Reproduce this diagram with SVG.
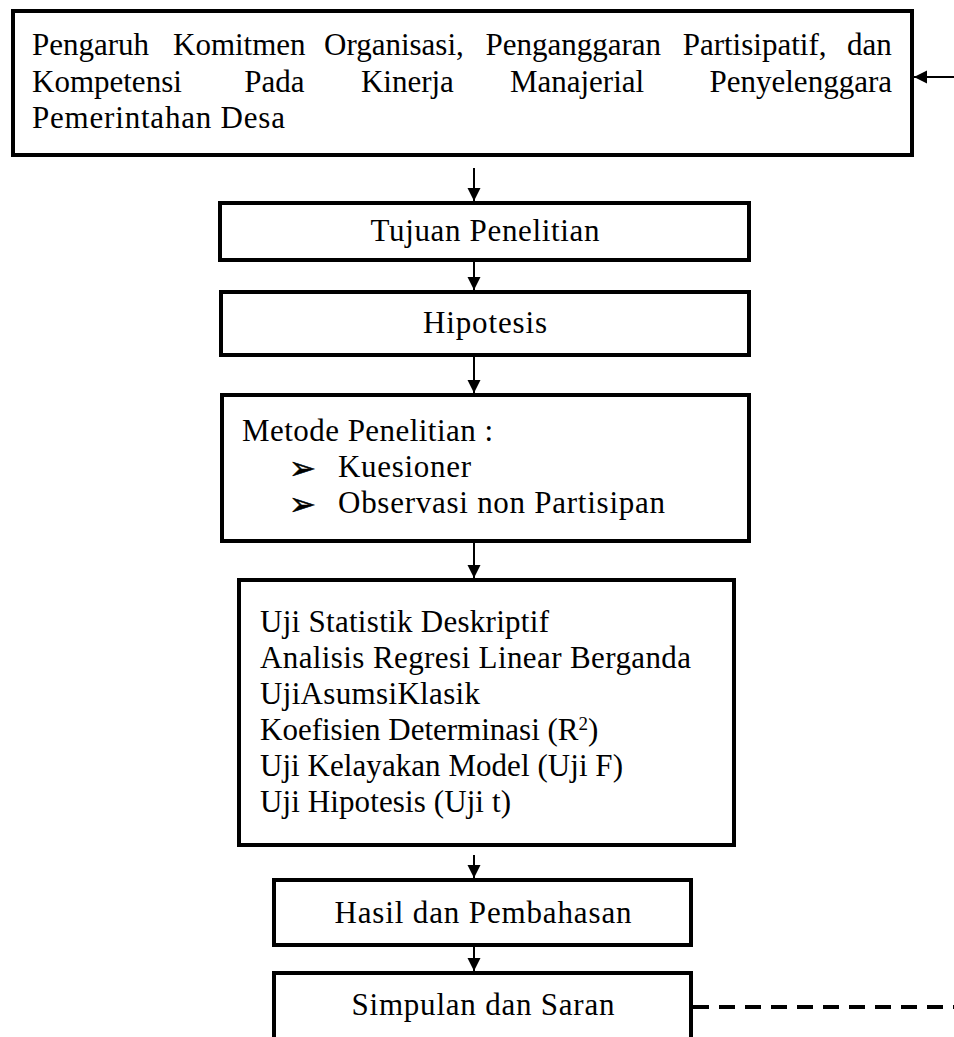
<svg xmlns="http://www.w3.org/2000/svg" width="954" height="1037" viewBox="0 0 954 1037">
<style>
.box{fill:#fff;stroke:#000;stroke-width:4}
.t{font-family:"Liberation Serif","Times New Roman",serif;font-size:31px;fill:#000}
.c{text-anchor:middle}
.bul{font-family:"DejaVu Sans",sans-serif;font-size:32px;fill:#000;stroke:#000;stroke-width:0.6}
.arr{stroke:#000;stroke-width:2;fill:none;marker-end:url(#ah)}
.dash{stroke:#000;stroke-width:4;stroke-dasharray:16 10;fill:none}
</style>
<defs>
<marker id="ah" markerUnits="userSpaceOnUse" markerWidth="14" markerHeight="14" refX="13" refY="6.5" orient="auto">
<path d="M0,0 L13,6.5 L0,13 z" fill="#000"/>
</marker>
</defs>
<rect width="954" height="1037" fill="#fff"/>

<g id="judul">
<rect class="box" x="13" y="11" width="899" height="144"/>
<text class="t" y="55"><tspan x="32">Pengaruh</tspan> <tspan x="173">Komitmen</tspan> <tspan x="324">Organisasi,</tspan> <tspan x="485.5">Penganggaran</tspan> <tspan x="682.7">Partisipatif,</tspan> <tspan x="847">dan</tspan></text>
<text class="t" y="91.5"><tspan x="32">Kompetensi</tspan> <tspan x="244.3">Pada</tspan> <tspan x="360.9">Kinerja</tspan> <tspan x="509.9">Manajerial</tspan> <tspan x="709.5">Penyelenggara</tspan></text>
<text class="t" x="32" y="128" textLength="253" lengthAdjust="spacing">Pemerintahan Desa</text>
</g>

<g id="tujuan">
<rect class="box" x="220" y="203" width="529" height="57"/>
<text class="t c" x="485" y="241" textLength="229" lengthAdjust="spacing">Tujuan Penelitian</text>
</g>

<g id="hipotesis">
<rect class="box" x="221" y="292" width="528" height="63"/>
<text class="t c" x="485" y="333" textLength="124" lengthAdjust="spacing">Hipotesis</text>
</g>

<g id="metode">
<rect class="box" x="222" y="395" width="527" height="146"/>
<text class="t" x="242" y="441" textLength="251" lengthAdjust="spacing">Metode Penelitian :</text>
<text class="bul" x="289" y="479">➢</text>
<text class="t" x="338" y="477" textLength="133" lengthAdjust="spacing">Kuesioner</text>
<text class="bul" x="289" y="515">➢</text>
<text class="t" x="338" y="513" textLength="327" lengthAdjust="spacing">Observasi non Partisipan</text>
</g>

<g id="analisis">
<rect class="box" x="239" y="580" width="495" height="265"/>
<text class="t" x="260" y="632" textLength="289" lengthAdjust="spacing">Uji Statistik Deskriptif</text>
<text class="t" x="260" y="668" textLength="431" lengthAdjust="spacing">Analisis Regresi Linear Berganda</text>
<text class="t" x="260" y="704" textLength="220" lengthAdjust="spacing">UjiAsumsiKlasik</text>
<text class="t" x="260" y="740">Koefisien Determinasi (R<tspan font-size="19" dy="-10">2</tspan><tspan dy="10">)</tspan></text>
<text class="t" x="260" y="776" textLength="363" lengthAdjust="spacing">Uji Kelayakan Model (Uji F)</text>
<text class="t" x="260" y="812" textLength="251" lengthAdjust="spacing">Uji Hipotesis (Uji t)</text>
</g>

<g id="hasil">
<rect class="box" x="274" y="880" width="417" height="65"/>
<text class="t c" x="483" y="923" textLength="297" lengthAdjust="spacing">Hasil dan Pembahasan</text>
</g>

<g id="simpulan">
<rect class="box" x="274" y="973" width="417" height="72"/>
<text class="t c" x="483" y="1015" textLength="263" lengthAdjust="spacing">Simpulan dan Saran</text>
</g>

<g id="connectors">
<line class="arr" x1="474" y1="168" x2="474" y2="201"/>
<line class="arr" x1="474" y1="262" x2="474" y2="290"/>
<line class="arr" x1="474" y1="357" x2="474" y2="393"/>
<line class="arr" x1="474" y1="543" x2="474" y2="578"/>
<line class="arr" x1="474" y1="855" x2="474" y2="878"/>
<line class="arr" x1="474" y1="947" x2="474" y2="971"/>
<line class="arr" x1="954" y1="77" x2="914" y2="77"/>
<line class="dash" x1="693" y1="1007" x2="954" y2="1007"/>
</g>
</svg>
